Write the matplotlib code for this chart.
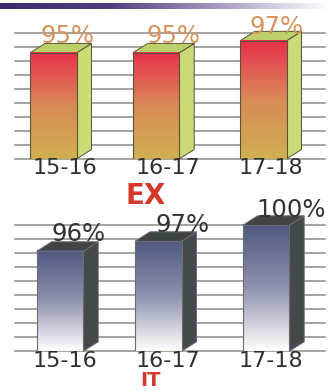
import numpy as np
import matplotlib
matplotlib.use('Agg')
import matplotlib.pyplot as plt
from matplotlib.colors import LinearSegmentedColormap
from matplotlib.patches import Polygon, Rectangle

years = ['15-16', '16-17', '17-18']
ex_labels = ['95%', '95%', '97%']
it_labels = ['96%', '97%', '100%']
# drawn height of the bars, as a share of the gridded wall
ex_heights = [84.4, 84.4, 94.0]
it_heights = [79.4, 87.3, 100.0]

W, H = 330, 391
DX, DY = 15, 9.5


def add_chart(top, bottom, lefts, heights, labels, label_xy, tick_xs, tick_y, face, side, top_col, edge, txt_col):
    ax = fig.add_axes([15 / W, 1 - bottom / H, 310 / W, (bottom - top) / H])
    ax.axis('off')
    scale = 100 / (bottom - top)
    for g in np.linspace(0, 100, 10):
        ax.plot([15, 325], [g, g], color='#8c8c84', lw=1.1, zorder=1, clip_on=False)
    cmap = LinearSegmentedColormap.from_list('bar', face)
    grad = np.linspace(0, 1, 128).reshape(-1, 1)
    for i, (l, h) in enumerate(zip(lefts, heights)):
        r = l + 46.5
        dy = DY * scale
        ax.add_patch(Polygon([(r, 0), (r + DX, dy), (r + DX, h + dy), (r, h)], fc=side, ec=edge, lw=0.7, zorder=2, clip_on=False))
        ax.add_patch(Polygon([(l, h), (l + DX, h + dy), (r + DX, h + dy), (r, h)], fc=top_col, ec=edge, lw=0.7, zorder=2, clip_on=False))
        ax.imshow(grad, extent=(l, r, 0, h), cmap=cmap, aspect='auto', origin='upper', zorder=3)
        ax.add_patch(Rectangle((l, 0), r - l, h, fc='none', ec=edge, lw=0.8, zorder=4))
        fig.text(label_xy[i][0] / W, 1 - label_xy[i][1] / H, labels[i], ha='center', va='center',
                 fontsize=17.5, color=txt_col, zorder=5)
        fig.text(tick_xs[i] / W, 1 - tick_y / H, years[i], ha='center', va='center',
                 fontsize=16, color='#2f2f2f')
    ax.set_xlim(15, 325)
    ax.set_ylim(0, 100)
    return ax


fig = plt.figure(figsize=(W / 100, H / 100), dpi=100, facecolor='white')

band = fig.add_axes([0, 1 - 9 / H, 1, 6 / H])
band_cmap = LinearSegmentedColormap.from_list('band', ['#3a2a6a', '#4f3f80', '#a99cc4', '#ffffff'])
band.imshow(np.linspace(0, 1, 256).reshape(1, -1), cmap=band_cmap, aspect='auto')
band.axis('off')

add_chart(33.3, 159, [30, 132.7, 240], ex_heights, ex_labels,
          [(68, 36), (173, 36), (277, 27)], [65, 168, 271], 168,
          ['#e8304c', '#d98a58', '#d0b050'], '#cbd977', '#bccf68', '#55553a', '#d9935c')
add_chart(225.3, 351.3, [36.7, 135, 242.7], it_heights, it_labels,
          [(79, 234), (183, 225), (291, 210)], [65, 168, 271], 361,
          ['#50597f', '#8e92ae', '#ffffff'], '#444a4c', '#3f4545', '#6a6c72', '#333333')

fig.text(146 / W, 1 - 196 / H, 'EX', ha='center', va='center', fontsize=20, fontweight='bold', color='#d6382c')
fig.text(150 / W, 1 - 385.5 / H, 'IT', ha='center', va='baseline', fontsize=14, fontweight='bold', color='#d6382c')

fig.savefig('out.png', dpi=100)
